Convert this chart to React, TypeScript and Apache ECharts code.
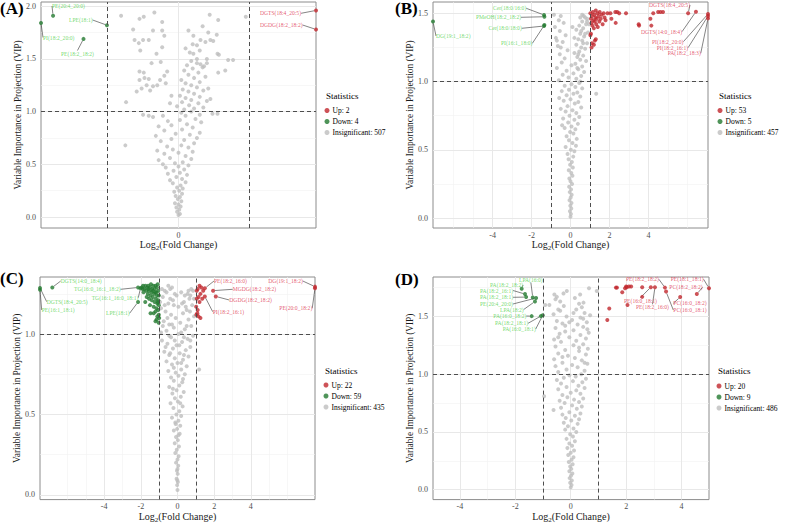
import React, { useEffect, useRef } from 'react';
import * as echarts from 'echarts';

type Pt = [number, number];
type LPt = [number, number, string];

const FONT = '"Liberation Serif", "Times New Roman", "DejaVu Serif", serif';

// ---------------- Panel A ----------------
const A_GRAY: Pt[] = [
  [0, 0.02], [0.02, 0.03], [-0.02, 0.05], [0.01, 0.07], [-0.03, 0.09], [0.03, 0.1], [0, 0.12], [-0.05, 0.13], [0.04, 0.15], [-0.01, 0.17],
  [0.02, 0.19], [-0.04, 0.2], [0.05, 0.22], [-0.06, 0.24], [0.01, 0.25], [0.06, 0.27], [-0.02, 0.28], [0.03, 0.3],
  [-0.08, 0.32], [0.1, 0.33], [-0.12, 0.35], [0.05, 0.36], [-0.03, 0.38], [0.12, 0.4], [-0.15, 0.41], [0.02, 0.42], [-0.07, 0.44], [0.08, 0.45], [-0.18, 0.47], [0.0, 0.48], [0.14, 0.49],
  [-0.22, 0.5], [-0.05, 0.51], [0.06, 0.52], [-0.28, 0.54], [0.18, 0.55], [-0.12, 0.56], [0.1, 0.58], [-0.2, 0.6], [0.0, 0.61], [0.2, 0.62], [-0.3, 0.63], [-0.08, 0.64], [0.14, 0.66], [-0.16, 0.67], [0.04, 0.68], [0.22, 0.7], [-0.75, 0.68],
  [-0.25, 0.72], [0.08, 0.73], [-0.1, 0.74], [0.26, 0.75], [-0.32, 0.77], [0.16, 0.78], [-0.04, 0.79], [0.3, 0.8], [-0.2, 0.82], [0.05, 0.83], [0.2, 0.85], [-0.28, 0.86], [-0.1, 0.87], [0.12, 0.88], [0.32, 0.9], [-0.15, 0.91], [0.02, 0.92], [0.24, 0.93], [-0.36, 0.95], [0.1, 0.96], [-0.22, 0.96], [0.3, 0.97], [-0.5, 0.97], [-0.42, 0.96], [0.48, 0.98], [0.04, 0.99], [0.18, 1.0], [0.55, 0.98],
  [0.08, 1.02], [0.22, 1.03], [0.35, 1.04], [-0.02, 1.05], [0.15, 1.06], [0.28, 1.08], [0.05, 1.09], [0.4, 1.1], [0.18, 1.11], [-0.74, 1.09], [0.1, 1.13], [0.3, 1.14], [0.45, 1.12], [0.02, 1.15], [0.22, 1.17], [0.14, 1.19], [0.35, 1.2], [0.06, 1.21], [0.26, 1.23], [-0.59, 1.19], [0.42, 1.22], [0.18, 1.25], [0.1, 1.27], [0.3, 1.28], [0.04, 1.3], [0.22, 1.32], [0.38, 1.33], [0.14, 1.35], [0.28, 1.37], [0.08, 1.39], [0.2, 1.41], [0.34, 1.42], [0.12, 1.44], [0.26, 1.46], [0.18, 1.48], [0.4, 1.5], [0.56, 1.37], [0.66, 1.39],
  [-0.55, 1.38], [-0.49, 1.37], [-0.55, 1.3], [-0.48, 1.32], [-0.42, 1.31], [-0.45, 1.25], [-0.52, 1.22], [-0.36, 1.24], [-0.3, 1.25], [-0.26, 1.3], [-0.2, 1.34], [-0.18, 1.27], [-0.16, 1.38], [-0.38, 1.46], [-0.25, 1.47], [-0.31, 1.55], [-0.23, 1.61], [-0.54, 1.58], [-0.62, 1.68], [-0.56, 1.65], [-0.5, 1.68], [-0.42, 1.68], [-0.36, 1.77], [-0.64, 1.78], [-0.23, 1.77], [-0.23, 1.85], [-0.2, 1.72], [-0.81, 1.91], [-0.55, 1.88], [-0.49, 1.9], [-0.34, 1.94], [-0.4, 1.2], [-0.1, 1.15], [-0.12, 1.08],
  [0.44, 1.92], [0.56, 1.87], [0.95, 1.9], [0.34, 1.81], [0.14, 1.77], [0.21, 1.72], [0.42, 1.75], [0.54, 1.73], [0.31, 1.68], [0.38, 1.66], [0.45, 1.68], [0.49, 1.67], [0.26, 1.63], [0.16, 1.56], [0.21, 1.55], [0.55, 1.55], [0.57, 1.54], [0.7, 1.49], [0.77, 1.49], [0.26, 1.5], [0.31, 1.45], [0.36, 1.43], [0.4, 1.46], [0.1, 1.6], [0.2, 1.64], [0.3, 1.58],
];
const A_UP: LPt[] = [[1.94, 1.96, 'DGTS(18:4_20:5)'], [1.94, 1.78, 'DGDG(18:2_18:2)']];
const A_DOWN: LPt[] = [[-1.77, 1.91, 'PE(20:4_20:0)'], [-1.01, 1.82, 'LPE(18:1)'], [-1.94, 1.84, 'PI(18:2_20:0)'], [-1.34, 1.69, 'PE(18:2_18:2)']];
const A_XTICKS = [0];
const A_XMINOR = [-1, 1];
const A_YTICKS = [0, 0.5, 1, 1.5, 2];
const A_YMINOR = [0.25, 0.75, 1.25, 1.75];
const A_COUNTS = [2, 4, 507];

// ---------------- Panel B ----------------
const B_GRAY: Pt[] = [
  [0, 0.01], [0.02, 0.03], [-0.03, 0.05], [0.04, 0.07], [-0.01, 0.09], [0.05, 0.11], [-0.05, 0.13], [0.01, 0.15], [0.06, 0.17], [-0.04, 0.19], [0.03, 0.21], [-0.07, 0.23], [0.08, 0.25], [0, 0.27], [-0.06, 0.29], [0.1, 0.31], [0.04, 0.33], [-0.09, 0.35], [0.12, 0.37], [-0.02, 0.39], [0.07, 0.41], [-0.1, 0.43], [0.14, 0.45],
  [-0.15, 0.47], [0.2, 0.49], [0.02, 0.5], [-0.25, 0.52], [0.28, 0.53], [0.1, 0.55], [-0.08, 0.57], [0.32, 0.58], [-0.2, 0.6], [0.15, 0.62], [-0.02, 0.63], [0.25, 0.65], [-0.3, 0.66], [0.05, 0.67], [-0.43, 0.68], [0.38, 0.69], [-0.12, 0.7],
  [0.2, 0.72], [-0.38, 0.73], [0.45, 0.74], [-0.05, 0.75], [0.3, 0.77], [-0.25, 0.78], [0.1, 0.79], [-0.5, 0.8], [0.55, 0.81], [-0.15, 0.82], [0.22, 0.84], [0.4, 0.85], [-0.35, 0.86], [0.0, 0.87], [-0.58, 0.88], [0.5, 0.89], [-0.2, 0.9], [0.15, 0.91], [1.32, 0.91], [0.35, 0.92], [-0.45, 0.93], [-0.08, 0.94], [0.6, 0.95], [0.25, 0.96], [-0.3, 0.97], [0.05, 0.98], [0.45, 0.99],
  [-0.6, 1.01], [0.3, 1.02], [-0.1, 1.03], [0.55, 1.04], [-0.4, 1.05], [0.15, 1.06], [0.7, 1.07], [-0.2, 1.08], [0.4, 1.09], [-0.7, 1.1], [0.6, 1.11], [0.05, 1.12], [0.25, 1.13], [-0.45, 1.14], [0.8, 1.15], [0.5, 1.16], [-0.3, 1.17], [0.35, 1.18], [0.65, 1.19], [-0.55, 1.2], [0.2, 1.21], [0.45, 1.22], [-0.15, 1.23], [0.75, 1.24], [0.55, 1.25], [-0.65, 1.26], [0.3, 1.27], [0.85, 1.28], [-0.4, 1.29], [0.6, 1.3], [0.4, 1.31], [-0.75, 1.32], [0.7, 1.33], [-0.25, 1.34], [0.5, 1.35], [0.9, 1.36], [-0.55, 1.37], [0.3, 1.38], [0.65, 1.39], [-0.8, 1.4], [0.45, 1.41], [0.8, 1.42], [-0.35, 1.43], [0.6, 1.44], [-0.6, 1.45], [0.85, 1.46], [-0.85, 1.49], [-0.5, 1.48], [0.6, 1.49], [0.68, 1.48], [0.85, 1.44], [0.75, 1.47], [0.5, 1.47], [0.95, 1.42], [-0.7, 1.3], [-0.5, 1.25], [0.1, 1.4], [0.2, 1.32], [0.55, 1.37], [0.65, 1.28], [0.75, 1.35], [0.4, 1.2], [0.35, 1.1], [0.5, 1.0],
];
const B_UP: LPt[] = [
  [6.04, 1.5, 'DGTS(18:4_20:5)'], [6.44, 1.512, 'DGTS(14:0_18:4)'], [7.06, 1.495, 'PI(18:2_20:0)'], [7.06, 1.48, 'PI(18:2_16:1)'], [7.06, 1.463, 'PA(18:2_18:3)'],
  [1.02, 1.5, ''], [1.05, 1.46, ''], [1.08, 1.43, ''], [1.1, 1.48, ''], [1.12, 1.41, ''], [1.15, 1.51, ''], [1.18, 1.45, ''], [1.2, 1.39, ''], [1.22, 1.49, ''], [1.25, 1.44, ''],
  [1.28, 1.47, ''], [1.3, 1.52, ''], [1.32, 1.42, ''], [1.35, 1.46, ''], [1.38, 1.5, ''], [1.4, 1.4, ''], [1.45, 1.48, ''], [1.48, 1.44, ''], [1.5, 1.51, ''], [1.55, 1.46, ''],
  [1.6, 1.49, ''], [1.65, 1.42, ''], [1.7, 1.5, ''], [1.75, 1.47, ''], [1.8, 1.45, ''], [1.9, 1.5, ''], [1.05, 1.35, ''], [1.02, 1.34, ''], [1.1, 1.28, ''], [1.25, 1.3, ''],
  [1.3, 1.31, ''], [1.2, 1.27, ''], [1.08, 1.25, ''], [2.05, 1.5, ''], [2.1, 1.46, ''], [2.3, 1.51, ''], [2.4, 1.51, ''], [2.5, 1.5, ''], [2.32, 1.43, ''], [2.85, 1.5, ''],
  [3.5, 1.42, ''], [3.52, 1.41, ''], [4.1, 1.46, ''], [4.15, 1.41, ''], [4.25, 1.5, ''], [4.5, 1.51, ''], [4.62, 1.51, ''], [4.75, 1.51, ''],
];
const B_DOWN: LPt[] = [
  [-1.36, 1.488, 'Cer(18:0/16:0)'], [-1.34, 1.475, 'PMeOH(18:2_18:2)'], [-1.36, 1.407, 'Cer(18:0/18:0)'], [-1.34, 1.414, 'PI(16:1_18:0)'], [-7.06, 1.44, 'DG(19:1_18:2)'],
];
const BX_TICKS = [-4, -2, 0, 2, 4];
const B_XMINOR = [-6, -5, -3, -1, 1, 3, 5, 6];
const B_YTICKS = [0, 0.5, 1, 1.5];
const B_YMINOR = [0.25, 0.75, 1.25];
const B_COUNTS = [53, 5, 457];

// ---------------- Panel C ----------------
const C_GRAY: Pt[] = [
  [0.0, 0.03], [-0.02, 0.06], [0.02, 0.08], [-0.05, 0.1], [0.01, 0.13], [-0.03, 0.15], [0.04, 0.18], [-0.08, 0.2], [0.0, 0.22], [0.06, 0.24], [-0.12, 0.26], [-0.04, 0.28], [0.08, 0.3], [-0.15, 0.32], [0.02, 0.34], [-0.08, 0.36], [0.12, 0.38], [-0.2, 0.4], [-0.02, 0.41], [0.15, 0.43], [-0.12, 0.45], [0.05, 0.46], [-0.3, 0.48], [0.2, 0.49],
  [-0.06, 0.5], [0.1, 0.52], [-0.22, 0.54], [0.28, 0.55], [-0.38, 0.57], [0.02, 0.58], [-0.14, 0.6], [0.18, 0.61], [-0.28, 0.63], [0.34, 0.64], [-0.05, 0.65], [-0.45, 0.67], [0.1, 0.68], [0.26, 0.7], [-0.2, 0.71], [-0.35, 0.73], [0.05, 0.74], [0.4, 0.75], [-0.1, 0.76], [-0.5, 0.77], [0.2, 0.78], [1.18, 0.78],
  [0.5, 0.8], [-0.3, 0.81], [0.0, 0.82], [-0.6, 0.83], [0.3, 0.84], [-0.15, 0.85], [0.6, 0.86], [-0.45, 0.87], [0.12, 0.88], [-0.72, 0.89], [0.45, 0.9], [-0.25, 0.91], [0.7, 0.92], [-0.05, 0.93], [-0.55, 0.94], [0.25, 0.95], [-0.85, 0.96], [0.55, 0.97], [-0.35, 0.98], [0.85, 0.99],
  [0.05, 1.0], [-0.9, 1.01], [-0.6, 1.02], [0.4, 1.03], [-0.2, 1.04], [0.75, 1.05], [-0.45, 1.06], [0.15, 1.07], [-0.75, 1.08], [0.6, 1.09], [-0.1, 1.1], [0.9, 1.11], [-0.35, 1.12], [0.3, 1.13], [-0.65, 1.14], [0.5, 1.15], [-0.9, 1.16], [0.05, 1.17], [0.8, 1.18], [-0.5, 1.19], [0.35, 1.2], [-0.25, 1.21], [0.65, 1.22], [-0.8, 1.23], [-0.05, 1.24], [0.55, 1.25], [-0.6, 1.26], [0.85, 1.27], [-0.4, 1.28], [0.2, 1.26], [-0.3, 1.29], [0.75, 1.28], [-0.7, 1.27], [0.6, 1.27], [-0.15, 1.25], [-0.5, 1.3], [-0.85, 1.28], [0.4, 1.24], [0.7, 1.24], [-0.95, 1.2], [-0.2, 1.18], [0.45, 1.17], [0.9, 1.22], [-0.7, 1.18], [-0.4, 1.22], [0.25, 1.19], [-0.55, 1.1], [0.68, 1.14], [-0.3, 1.06], [0.5, 1.05], [-0.8, 1.05], [0.2, 1.01],
  [-0.45, 0.99], [0.35, 0.98], [-0.15, 0.96], [0.7, 0.96], [0.1, 0.93], [-0.65, 0.92], [-0.4, 0.88], [0.35, 0.87], [0.2, 0.82], [-0.2, 0.79], [0.3, 0.72], [-0.25, 0.66], [0.15, 0.57], [-0.1, 0.44], [0.05, 0.37], [0.0, 0.16], [-0.01, 0.09],
];
const C_UP: LPt[] = [
  [1.49, 1.285, 'PE(18:2_16:0)'], [1.94, 1.27, 'MGDG(18:2_18:2)'], [2.09, 1.234, 'DGDG(18:2_18:2)'], [1.49, 1.234, 'PI(18:2_16:1)'], [7.5, 1.295, 'DG(19:1_18:2)'], [7.5, 1.285, 'PE(20:0_18:2)'],
  [1.05, 1.27, ''], [1.1, 1.28, ''], [1.2, 1.3, ''], [1.3, 1.29, ''], [1.4, 1.27, ''], [1.25, 1.25, ''], [1.15, 1.23, ''], [1.35, 1.22, ''], [1.05, 1.22, ''], [1.2, 1.2, ''], [1.02, 1.17, ''], [1.1, 1.15, ''], [1.03, 1.12, ''], [1.15, 1.11, ''], [1.25, 1.1, ''], [1.08, 1.13, ''],
];
const C_DOWN: LPt[] = [
  [-6.83, 1.29, 'DGTS(14:0_18:4)'], [-2.15, 1.29, 'TG(16:0_16:1_18:2)'], [-7.5, 1.287, 'DGTS(18:4_20:5)'], [-2.02, 1.285, 'TG(16:1_16:0_18:1)'], [-7.5, 1.275, 'PE(16:1_18:1)'], [-2.15, 1.2, 'LPE(18:1)'],
  [-1.95, 1.29, ''], [-1.88, 1.3, ''], [-1.8, 1.28, ''], [-1.75, 1.3, ''], [-1.7, 1.27, ''], [-1.65, 1.29, ''], [-1.6, 1.3, ''], [-1.55, 1.27, ''], [-1.5, 1.29, ''], [-1.45, 1.31, ''], [-1.42, 1.26, ''], [-1.38, 1.28, ''], [-1.32, 1.3, ''], [-1.28, 1.25, ''], [-1.25, 1.28, ''], [-1.2, 1.3, ''], [-1.15, 1.26, ''], [-1.12, 1.29, ''], [-1.08, 1.31, ''], [-1.05, 1.27, ''], [-1.02, 1.24, ''],
  [-1.85, 1.26, ''], [-1.62, 1.25, ''], [-1.48, 1.24, ''], [-1.35, 1.23, ''], [-1.18, 1.22, ''], [-1.05, 1.21, ''],
  [-1.1, 1.19, ''], [-1.25, 1.2, ''], [-1.4, 1.21, ''], [-1.02, 1.18, ''], [-1.15, 1.16, ''], [-1.3, 1.17, ''], [-1.05, 1.15, ''], [-1.2, 1.14, ''], [-1.02, 1.12, ''], [-1.1, 1.11, ''], [-1.3, 1.13, ''], [-1.47, 1.13, ''], [-1.14, 1.09, ''], [-1.0, 1.1, ''], [-1.03, 1.07, ''], [-1.2, 1.08, ''],
  [-1.76, 1.2, ''], [-1.9, 1.28, ''], [-1.55, 1.22, ''], [-1.68, 1.23, ''], [-1.12, 1.24, ''], [-1.08, 1.2, ''], [-1.5, 1.18, ''], [-1.22, 1.26, ''], [-1.58, 1.28, ''], [-1.35, 1.27, ''],
];
const C_YTICKS = [0, 0.5, 1];
const C_YMINOR = [0.25, 0.75, 1.25];
const C_COUNTS = [22, 59, 435];

// ---------------- Panel D ----------------
const D_GRAY: Pt[] = [
  [0.0, 0.02], [0.03, 0.04], [-0.02, 0.06], [0.04, 0.08], [-0.04, 0.1], [0.01, 0.12], [0.06, 0.14], [-0.05, 0.16], [0.02, 0.18], [-0.02, 0.2], [0.07, 0.22], [-0.07, 0.24], [0.03, 0.26], [0.1, 0.28], [-0.09, 0.3], [0.0, 0.32], [0.12, 0.34], [-0.12, 0.36], [0.05, 0.38], [-0.05, 0.4], [0.15, 0.42], [-0.15, 0.44], [0.08, 0.46], [-0.02, 0.48],
  [0.2, 0.5], [-0.2, 0.52], [0.1, 0.53], [-0.1, 0.55], [0.25, 0.57], [-0.25, 0.58], [0.02, 0.6], [0.3, 0.61], [-0.18, 0.62], [0.15, 0.64], [-0.3, 0.65], [0.35, 0.66], [-0.05, 0.67], [-0.62, 0.69], [0.22, 0.7], [-0.35, 0.71], [0.4, 0.72], [0.05, 0.73], [-0.22, 0.75], [0.3, 0.76], [-0.4, 0.77], [0.12, 0.78], [0.45, 0.79], [-0.96, 0.81], [-0.12, 0.8], [-0.3, 0.82], [0.35, 0.83], [0.0, 0.84], [0.2, 0.86], [-0.45, 0.87], [0.5, 0.88], [-0.15, 0.89], [0.28, 0.9], [-0.35, 0.92], [0.42, 0.93], [0.08, 0.94], [-0.5, 0.95], [0.55, 0.96], [-0.25, 0.97], [0.18, 0.98], [-0.05, 0.99], [0.38, 1.0],
  [-0.45, 1.02], [0.5, 1.03], [-0.15, 1.04], [0.25, 1.06], [-0.55, 1.07], [0.05, 1.08], [0.6, 1.09], [-0.3, 1.1], [0.4, 1.12], [-0.6, 1.13], [0.15, 1.14], [-0.1, 1.16], [0.55, 1.17], [-0.45, 1.18], [0.3, 1.2], [-0.2, 1.21], [0.62, 1.22], [-0.55, 1.24], [0.1, 1.25], [0.45, 1.26], [-0.35, 1.28], [0.2, 1.29], [-0.6, 1.3], [0.55, 1.31], [-0.05, 1.32], [0.35, 1.34], [-0.4, 1.35], [0.65, 1.36], [-0.2, 1.37], [0.1, 1.38], [-0.55, 1.4], [0.45, 1.41], [0.25, 1.43], [-0.3, 1.44], [0.58, 1.45], [-0.5, 1.46], [0.05, 1.47], [0.35, 1.49], [-0.15, 1.5], [0.7, 1.51], [-0.62, 1.52], [0.5, 1.53], [-0.38, 1.55], [0.2, 1.56], [0.4, 1.58], [-0.25, 1.59], [-0.77, 1.6], [-0.92, 1.6], [0.3, 1.61], [-0.38, 1.63], [0.46, 1.62], [-0.55, 1.65], [0.15, 1.66], [-0.5, 1.67], [0.34, 1.69], [-0.59, 1.69], [-0.26, 1.7], [0.94, 1.72], [-0.14, 1.72], [0.66, 1.745], [-0.45, 1.56], [0.1, 1.53], [0.45, 1.48], [-0.2, 1.42], [0.6, 1.39], [-0.45, 1.32], [0.3, 1.23], [-0.3, 1.15], [0.5, 1.1], [-0.05, 1.45],
];
const D_UP: LPt[] = [
  [3.4, 1.75, 'PE(18:2_18:2)'], [4.99, 1.745, 'PE(18:1_18:1)'], [4.55, 1.694, 'PC(18:2_18:2)'], [2.89, 1.754, 'PE(16:0_18:1)'], [3.04, 1.754, 'PE(18:2_16:0)'], [3.95, 1.668, 'PC(16:0_18:2)'], [3.44, 1.716, 'PC(16:0_18:1)'],
  [1.32, 1.47, ''], [1.39, 1.57, ''], [1.63, 1.75, ''], [1.67, 1.75, ''], [1.86, 1.71, ''], [1.96, 1.745, ''], [2.02, 1.754, ''], [2.1, 1.76, ''], [2.18, 1.76, ''], [2.05, 1.6, ''], [2.58, 1.754, ''], [2.58, 1.67, ''], [2.0, 1.76, ''],
];
const D_DOWN: LPt[] = [
  [-1.37, 1.665, 'LPA(16:0)'], [-1.77, 1.74, 'PA(18:2_18:2)'], [-1.65, 1.694, 'PA(18:2_16:1)'], [-1.61, 1.668, 'PA(18:2_18:1)'], [-1.25, 1.66, 'PE(20:4_20:0)'],
  [-1.29, 1.63, 'LPA(18:2)'], [-1.41, 1.503, 'PA(16:0_18:2)'], [-1.08, 1.503, 'PA(18:2_18:1)'], [-1.01, 1.51, 'PA(16:0_18:1)'],
];
const D_XMINOR = [-3, -1, 1, 3];
const D_YTICKS = [0, 0.5, 1, 1.5];
const D_YMINOR = [0.25, 0.75, 1.25, 1.75];
const D_COUNTS = [20, 9, 486];

const THRESH_X = [-1, 1];
const THRESH_Y = [1];

// ---------------- layout (pixel positions of labels: left x, middle y) ----------------
const A_UP_POS: Pt[] = [[260, 13.3], [260, 25]];
const A_DOWN_POS: Pt[] = [[52, 6], [69, 20], [43, 37.5], [61, 53.5]];
const B_UP_POS: Pt[] = [[649, 5], [641, 31.7], [652, 41.7], [656.7, 47.7], [667.7, 53.3]];
const B_DOWN_POS: Pt[] = [[493, 8.3], [476, 17.3], [488.5, 28.3], [501, 43.3], [436, 36]];
const C_UP_POS: Pt[] = [[214, 281], [232.7, 289.3], [229.3, 300], [212.7, 311.7], [268.3, 281], [279.3, 308.3]];
const C_DOWN_POS: Pt[] = [[60.7, 281], [74, 289.3], [46.7, 301.7], [91.7, 297.7], [41.7, 310], [106, 313.3]];
const D_UP_POS: Pt[] = [[626, 279.3], [670.7, 279.3], [669.3, 287.3], [624, 300.7], [636, 307.3], [673.3, 303.3], [673.3, 310]];
const D_DOWN_POS: Pt[] = [[519, 279.5], [490, 285], [480, 290.5], [480, 297.3], [480, 304], [500, 309.5], [493.3, 316], [495, 323.3], [502.7, 329]];

const GRAY = '#bebebe';
const RED = '#c1272d';
const GREEN = '#23792f';
const RED_TXT = '#dc2f4b';
const GREEN_TXT = '#52d14a';
const TICK_TXT = '#4d4d4d';

const PANELS = [
  {
    letter: '(A)', grid: { left: 41, top: 2, width: 275, height: 226 }, x: [-1.94, 1.94], y: [-0.104, 2.04],
    gray: A_GRAY, up: A_UP, down: A_DOWN, upPos: A_UP_POS, downPos: A_DOWN_POS,
    xt: A_XTICKS, xm: A_XMINOR, yt: A_YTICKS, ym: A_YMINOR, counts: A_COUNTS,
    title: [0, 0], stat: [326, 91.5], legend: [324.5, 105.5],
  },
  {
    letter: '(B)', grid: { left: 433, top: 2, width: 275, height: 226 }, x: [-7.06, 7.06], y: [-0.073, 1.583],
    gray: B_GRAY, up: B_UP, down: B_DOWN, upPos: B_UP_POS, downPos: B_DOWN_POS,
    xt: BX_TICKS, xm: B_XMINOR, yt: B_YTICKS, ym: B_YMINOR, counts: B_COUNTS,
    title: [395, 0], stat: [719, 91.5], legend: [717.5, 105.5],
  },
  {
    letter: '(C)', grid: { left: 40, top: 277, width: 275, height: 225 }, x: [-7.5, 7.5], y: [-0.03, 1.355],
    gray: C_GRAY, up: C_UP, down: C_DOWN, upPos: C_UP_POS, downPos: C_DOWN_POS,
    xt: BX_TICKS, xm: B_XMINOR, yt: C_YTICKS, ym: C_YMINOR, counts: C_COUNTS,
    title: [0, 270], stat: [325, 366], legend: [323.5, 380],
  },
  {
    letter: '(D)', grid: { left: 433, top: 277, width: 276, height: 225 }, x: [-4.97, 4.99], y: [-0.086, 1.842],
    gray: D_GRAY, up: D_UP, down: D_DOWN, upPos: D_UP_POS, downPos: D_DOWN_POS,
    xt: BX_TICKS, xm: D_XMINOR, yt: D_YTICKS, ym: D_YMINOR, counts: D_COUNTS,
    title: [395, 271], stat: [718, 366.5], legend: [716.5, 381],
  },
];

function labeledSeries(points: LPt[], positions: Pt[], name: string, color: string, txtColor: string, idx: number) {
  const pos: Record<number, Pt> = {};
  let k = 0;
  const data = points.map((p, i) => {
    if (p[2]) pos[i] = positions[k++];
    return { value: [p[0], p[1]], name: p[2], label: { show: !!p[2] } };
  });
  return {
    type: 'scatter', name, xAxisIndex: idx, yAxisIndex: idx, symbolSize: 4, clip: false, z: 3,
    itemStyle: { color }, data,
    emphasis: { disabled: true },
    label: { show: false, formatter: '{b}', fontSize: 5.6, color: txtColor, fontFamily: FONT },
    labelLine: { show: true, lineStyle: { color: '#333', width: 0.6 } },
    labelLayout: (params: any) => {
      const q = pos[params.dataIndex];
      if (!q) return {};
      return { x: q[0], y: q[1], align: 'left', verticalAlign: 'middle' };
    },
  };
}

export default function App() {
  const ref = useRef<HTMLDivElement>(null);
  useEffect(() => {
    if (!ref.current) return;
    const chart = echarts.init(ref.current, undefined, { renderer: 'svg' });
    const grid: any[] = [];
    const xAxis: any[] = [];
    const yAxis: any[] = [];
    const series: any[] = [];
    const title: any[] = [];
    const legend: any[] = [];
    PANELS.forEach((P, i) => {
      grid.push({ ...P.grid, show: true, borderColor: '#8c8c8c', borderWidth: 1, backgroundColor: '#fff' });
      xAxis.push({
        type: 'value', gridIndex: i, min: P.x[0], max: P.x[1],
        axisLine: { show: false }, splitLine: { show: false },
        axisTick: { show: true, length: 3, customValues: P.xt, lineStyle: { color: '#444', width: 0.8 } },
        axisLabel: { customValues: P.xt, fontSize: 8, color: TICK_TXT, fontFamily: FONT, margin: 3, formatter: (v: number) => String(v) },
        name: '{a|Log}{s|2}{a|(Fold Change)}', nameLocation: 'middle', nameGap: 9,
        nameTextStyle: {
          color: '#1a1a1a', fontFamily: FONT, verticalAlign: 'top',
          rich: {
            a: { fontSize: 10, fontFamily: FONT, color: '#1a1a1a', lineHeight: 13 },
            s: { fontSize: 7, fontFamily: FONT, color: '#1a1a1a', lineHeight: 13, verticalAlign: 'bottom' },
          },
        },
      });
      yAxis.push({
        type: 'value', gridIndex: i, min: P.y[0], max: P.y[1],
        axisLine: { show: false }, splitLine: { show: false },
        axisTick: { show: true, length: 3, customValues: P.yt, lineStyle: { color: '#444', width: 0.8 } },
        axisLabel: {
          customValues: P.yt, fontSize: 8, fontFamily: FONT, margin: 5,
          color: () => TICK_TXT,
          formatter: (v: number) => v.toFixed(1),
        },
        name: 'Variable Importance in Projection (VIP)', nameLocation: 'middle', nameGap: 14,
        nameTextStyle: { fontSize: 9.3, color: '#1a1a1a', fontFamily: FONT },
      });
      const gridLines = [
        ...P.xm.map((v) => ({ xAxis: v, lineStyle: { color: '#f1f1f1', width: 0.6, type: 'solid' } })),
        ...P.ym.map((v) => ({ yAxis: v, lineStyle: { color: '#f1f1f1', width: 0.6, type: 'solid' } })),
        ...P.xt.map((v) => ({ xAxis: v, lineStyle: { color: '#e8e8e8', width: 1, type: 'solid' } })),
        ...P.yt.map((v) => ({ yAxis: v, lineStyle: { color: '#e8e8e8', width: 1, type: 'solid' } })),
      ];
      series.push({
        type: 'scatter', name: `Insignificant: ${P.counts[2]}`, xAxisIndex: i, yAxisIndex: i, symbolSize: 4, z: 2,
        itemStyle: { color: GRAY }, data: P.gray, emphasis: { disabled: true },
        markLine: { silent: true, z: 1, symbol: ['none', 'none'], label: { show: false }, emphasis: { disabled: true }, data: gridLines },
      });
      const upS: any = labeledSeries(P.up, P.upPos, `Up: ${P.counts[0]}`, RED, RED_TXT, i);
      const downS: any = labeledSeries(P.down, P.downPos, `Down: ${P.counts[1]}`, GREEN, GREEN_TXT, i);
      downS.markLine = {
        silent: true, symbol: ['none', 'none'], label: { show: false }, emphasis: { disabled: true },
        lineStyle: { color: '#4d4d4d', width: 1, type: [4, 3] },
        data: [...THRESH_X.map((v) => ({ xAxis: v })), ...THRESH_Y.map((v) => ({ yAxis: v }))],
      };
      series.push(upS, downS);
      title.push({ text: P.letter, left: P.title[0], top: P.title[1], padding: 0, textStyle: { fontSize: 17, fontWeight: 'bold', fontFamily: FONT, color: '#000' } });
      title.push({ text: 'Statistics', left: P.stat[0], top: P.stat[1], padding: 0, textStyle: { fontSize: 9, fontWeight: 'normal', fontFamily: FONT, color: '#000' } });
      legend.push({
        left: P.legend[0], top: P.legend[1], orient: 'vertical', padding: 0, itemGap: 1, itemWidth: 5, itemHeight: 5,
        icon: 'circle', selectedMode: false,
        data: [`Up: ${P.counts[0]}`, `Down: ${P.counts[1]}`, `Insignificant: ${P.counts[2]}`],
        textStyle: { fontSize: 7.5, fontFamily: FONT, color: '#000', lineHeight: 10, padding: [0, 0, 0, -2] },
      });
    });
    chart.setOption({ animation: false, backgroundColor: '#fff', grid, xAxis, yAxis, series, title, legend });
    return () => chart.dispose();
  }, []);
  return <div ref={ref} style={{ position: 'fixed', left: 0, top: 0, width: 788, height: 524 }} />;
}
